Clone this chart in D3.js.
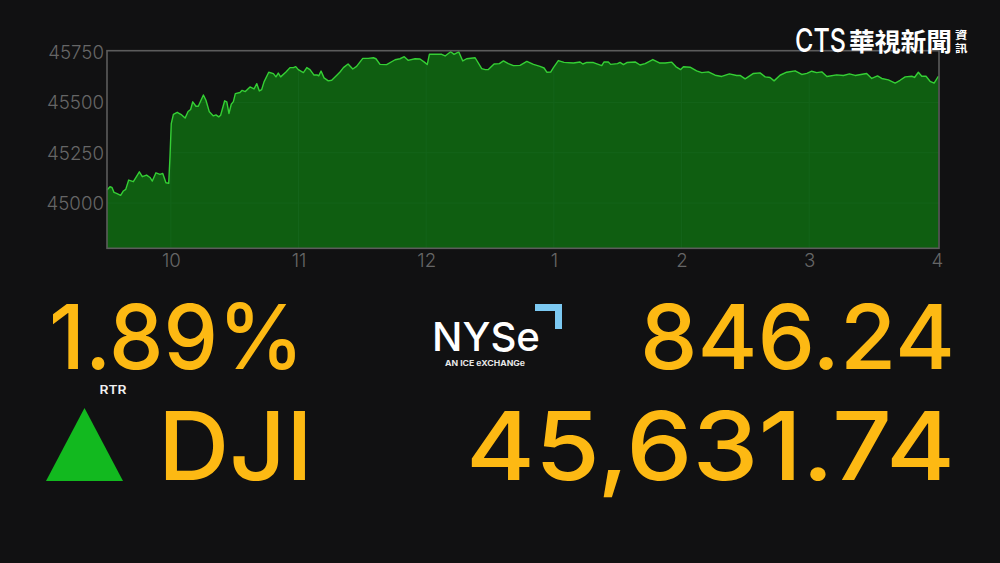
<!DOCTYPE html>
<html><head><meta charset="utf-8">
<style>html,body{margin:0;padding:0;background:#111112}svg{display:block}</style>
<script src="https://cdn.jsdelivr.net/npm/d3@7"></script></head>
<body><svg id="c" width="1000" height="563"></svg>
<script>
const minutes=[0,1.4,2.3,3.3,4.5,6.4,7.7,8.8,10.2,12.4,15.2,16.6,18.6,20.2,21.3,23,24.9,26.2,27.7,29,29.6,30.2,31.2,33,35.1,36.7,38.1,39.3,40.3,41.8,42.9,45.3,46.5,48.1,50,51.2,52.5,53.4,55.3,56.3,57.3,58.4,59.4,60.3,62.5,63.5,65,67.2,69.1,70.4,71.6,72.7,73.8,76,78.2,79.4,80.5,81.6,84.1,86,87.6,88.7,89.9,92.3,93.9,95.4,97.3,98.9,99.5,100.6,102,104,105.6,108,109.5,111.1,113.3,115.5,117.3,120.2,122.8,125.2,126.4,128.3,131.4,135.4,137.7,139.7,141.5,144.8,147.1,149.3,150.5,151.5,153.4,157.3,158.9,161.5,163.1,165.3,167.2,169,173,176.1,177.8,179.2,181.9,184.4,186.3,188.6,191,194.1,197.3,200.4,203.5,205.4,206.7,208.5,209.8,212.1,214.8,219.2,222.3,223.6,225.5,228.6,232.5,233.6,235.6,236.7,239.9,241.1,242.7,244.3,248.2,250.5,252.9,256.5,259.6,262.3,265.4,267.4,269.6,270.9,274,277.1,279.5,282.6,285.8,288.9,292.5,295.9,297.5,299.9,303.8,306.9,309.3,311.6,313.5,316.3,319.4,323.4,326.5,328.9,331.2,333.5,335.9,338.3,342.9,346.1,348.9,351.6,357,359.4,362.1,364.1,367.2,370.4,372.7,375.1,378.2,379.5,381.3,382.9,384.9,386.8,388.7,390.7];
const values=[45065,45081,45078,45053,45048,45038,45060,45068,45114,45106,45155,45131,45139,45127,45109,45150,45142,45147,45101,45098,45230,45395,45441,45451,45438,45422,45455,45465,45503,45481,45481,45537,45511,45453,45433,45438,45428,45436,45508,45503,45445,45491,45504,45544,45549,45560,45554,45577,45567,45593,45557,45564,45602,45650,45643,45627,45646,45627,45651,45673,45673,45678,45663,45648,45673,45663,45636,45636,45632,45656,45622,45607,45610,45635,45651,45673,45691,45666,45679,45719,45719,45722,45717,45689,45688,45712,45717,45727,45709,45717,45716,45699,45688,45739,45739,45739,45731,45752,45739,45751,45706,45717,45722,45668,45663,45663,45691,45693,45706,45693,45683,45684,45704,45689,45679,45671,45650,45651,45673,45708,45699,45696,45701,45691,45699,45698,45683,45701,45701,45689,45693,45699,45688,45698,45701,45686,45693,45713,45696,45696,45700,45677,45663,45677,45675,45657,45648,45652,45635,45629,45642,45634,45634,45617,45644,45647,45627,45624,45607,45635,45650,45657,45639,45644,45655,45648,45652,45629,45637,45634,45642,45634,45644,45619,45632,45619,45612,45596,45610,45627,45630,45624,45650,45630,45630,45605,45596,45630];
const xTickMinutes=[30,90,150,210,270,330,390];
const xTickLabels=["10","11","12","1","2","3","4"];
const yTicks=[45000,45250,45500,45750];
const pctText="1.89%",changeText="846.24",indexName="DJI",levelText="45,631.74";

const svg=d3.select("#c");
const F="Inter, Lato, sans-serif";
const L=107,R=939,T=50.7,B=248.3;
const x=d3.scaleLinear().domain([0,391]).range([L,R]);
const y=d3.scaleLinear().domain([44775,45757]).range([B,T]);
const data=minutes.map((m,i)=>[m,values[i]]);
const area=d3.area().x(d=>x(d[0])).y0(B).y1(d=>y(d[1]));
const line=d3.line().x(d=>x(d[0])).y(d=>y(d[1]));
svg.append("clipPath").attr("id","under").append("path").datum(data).attr("d",area);
svg.append("path").datum(data).attr("d",area).attr("fill","#0f5e11");
const grid=svg.append("g").attr("clip-path","url(#under)");
grid.append("g").selectAll("line").data(yTicks.slice(0,3)).join("line")
 .attr("x1",L).attr("x2",R).attr("y1",d=>y(d)).attr("y2",d=>y(d)).attr("stroke","#14641a").attr("stroke-width",1);
grid.append("g").selectAll("line").data(xTickMinutes.slice(0,6)).join("line")
 .attr("x1",d=>x(d)).attr("x2",d=>x(d)).attr("y1",T).attr("y2",B).attr("stroke","#14641a").attr("stroke-width",1);
svg.append("path").datum(data).attr("d",line).attr("fill","none").attr("stroke","#35cf35").attr("stroke-width",1.4).attr("stroke-linejoin","round");
svg.append("rect").attr("x",L).attr("y",T).attr("width",R-L).attr("height",B-T).attr("fill","none").attr("stroke","#5c5c5c").attr("stroke-width",1.6);

const axisY=d3.axisLeft(y).tickValues(yTicks).tickSize(0).tickPadding(3).tickFormat(d3.format("d"));
const gy=svg.append("g").attr("transform",`translate(${L},0.5)`).call(axisY);
gy.select(".domain").remove();
gy.selectAll("text").attr("font-family",F).attr("font-weight",300).attr("font-size",18.7).attr("fill","#666");
const axisX=d3.axisBottom(x).tickValues(xTickMinutes).tickSize(0).tickPadding(5).tickFormat((d,i)=>xTickLabels[i]);
const gx=svg.append("g").attr("transform",`translate(0,${B})`).call(axisX);
gx.select(".domain").remove();
gx.selectAll("text").attr("font-family",F).attr("font-weight",300).attr("font-size",18.7).attr("fill","#666");

function t(s,xp,yp,size,fill,weight,fam,len){
 const e=svg.append("text").attr("x",xp).attr("y",yp).attr("font-size",size).attr("fill",fill)
 .attr("font-weight",weight||400).attr("font-family",fam||F).text(s);
 if(len) e.attr("textLength",len).attr("lengthAdjust","spacingAndGlyphs");
 return e;
}
const Y="#fdb913";
const W=550;
t(pctText,49,368.5,90,Y,W,F,255);
t(changeText,640,368.5,90,Y,W,F,315);
t(indexName,158,480,95,Y,W,F,155);
t(levelText,466,480,95,Y,W,F,489);
t("RTR",99.5,394,12,"#f0f0f0",600,F,27);
svg.append("path").attr("d",d3.line()([[84.5,408],[123,481],[46,481]])+"Z").attr("fill","#12b91f");

t("NYSe",432,351,40,"#ffffff",550,F,108);
t("AN ICE eXCHANGe",445,366,7.5,"#e8e8e8",700,F,80);
svg.append("path").attr("d","M535,304H562V329H555V311H535Z").attr("fill","#7cc9f2");
t("CTS",0,0,33,"#fff",500,F).attr("transform","translate(795,52) scale(0.76,1)");
t("華視新聞",849,50.5,25.5,"#fff",700,"'Noto Sans CJK TC',sans-serif",103);
t("資",955,39,10.5,"#fff",700,"'Noto Sans CJK TC',sans-serif",12.5);
t("訊",955,52,10.5,"#fff",700,"'Noto Sans CJK TC',sans-serif",12.5);
</script></body></html>
